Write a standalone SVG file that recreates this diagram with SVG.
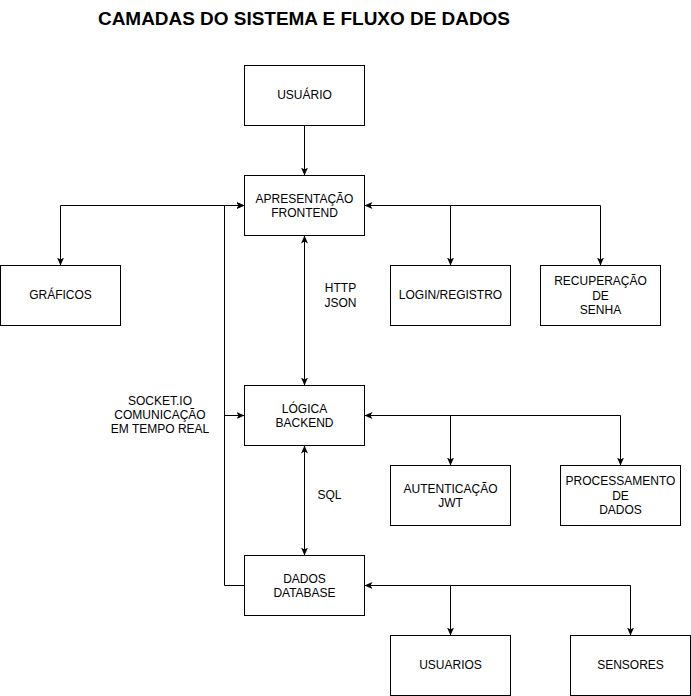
<svg xmlns="http://www.w3.org/2000/svg" width="691" height="696" viewBox="0 0 691 696">
<style>
.box{fill:#fff;stroke:#000;stroke-width:1}
.t{font-family:"Liberation Sans",Arial,Helvetica,sans-serif;font-size:12px;fill:#000;text-anchor:middle}
.title{font-family:"Liberation Sans",Arial,Helvetica,sans-serif;font-size:18px;font-weight:bold;fill:#000;text-anchor:middle}
.e{fill:none;stroke:#000;stroke-width:1}
</style>
<defs>
<marker id="a" viewBox="0 0 8 7" refX="8" refY="3.5" markerWidth="8" markerHeight="7" markerUnits="userSpaceOnUse" orient="auto-start-reverse">
<path d="M0,0 L8,3.5 L0,7 L2,3.5 z" fill="#000"/>
</marker>
</defs>
<rect width="691" height="696" fill="#fff"/>
<text class="title" x="304" y="25" textLength="412" lengthAdjust="spacingAndGlyphs">CAMADAS DO SISTEMA E FLUXO DE DADOS</text>

<g id="connectors">
<path class="e" d="M304.5,125.5 V175.5" marker-end="url(#a)"/>
<path class="e" d="M304.5,235.5 V385.5" marker-start="url(#a)" marker-end="url(#a)"/>
<path class="e" d="M304.5,445.5 V555.5" marker-start="url(#a)" marker-end="url(#a)"/>
<path class="e" d="M364.5,205.5 H450.5 V265.5" marker-start="url(#a)" marker-end="url(#a)"/>
<path class="e" d="M364.5,205.5 H600.5 V265.5" marker-end="url(#a)"/>
<path class="e" d="M244.5,205.5 H60.5 V265.5" marker-start="url(#a)" marker-end="url(#a)"/>
<path class="e" d="M244.5,585.5 H224.5 V205.5 H244.5" marker-end="url(#a)"/>
<path class="e" d="M224.5,415.5 H244.5" marker-end="url(#a)"/>
<path class="e" d="M364.5,415.5 H450.5 V465.5" marker-start="url(#a)" marker-end="url(#a)"/>
<path class="e" d="M364.5,415.5 H620.5 V465.5" marker-end="url(#a)"/>
<path class="e" d="M364.5,585.5 H450.5 V635.5" marker-start="url(#a)" marker-end="url(#a)"/>
<path class="e" d="M364.5,585.5 H630.5 V635.5" marker-end="url(#a)"/>
<text class="t" x="340.5" y="292">HTTP</text>
<text class="t" x="340.5" y="306.5">JSON</text>
<text class="t" x="329.5" y="498.5">SQL</text>
<text class="t" x="160" y="404.5">SOCKET.IO</text>
<text class="t" x="160" y="418.9">COMUNICAÇÃO</text>
<text class="t" x="160" y="433.3">EM TEMPO REAL</text>
</g>

<g id="usuario"><rect class="box" x="244.5" y="65.5" width="120" height="60"/><text class="t" x="304.5" y="99">USUÁRIO</text></g>
<g id="frontend"><rect class="box" x="244.5" y="175.5" width="120" height="60"/><text class="t" x="304.5" y="202.6">APRESENTAÇÃO</text><text class="t" x="304.5" y="217">FRONTEND</text></g>
<g id="graficos"><rect class="box" x="0.5" y="265.5" width="120" height="60"/><text class="t" x="60.5" y="299">GRÁFICOS</text></g>
<g id="login"><rect class="box" x="390.5" y="265.5" width="120" height="60"/><text class="t" x="450.5" y="299">LOGIN/REGISTRO</text></g>
<g id="recuperacao"><rect class="box" x="540.5" y="265.5" width="120" height="60"/><text class="t" x="600.5" y="285.4">RECUPERAÇÃO</text><text class="t" x="600.5" y="299.8">DE</text><text class="t" x="600.5" y="314.2">SENHA</text></g>
<g id="backend"><rect class="box" x="244.5" y="385.5" width="120" height="60"/><text class="t" x="304.5" y="412.6">LÓGICA</text><text class="t" x="304.5" y="427">BACKEND</text></g>
<g id="autenticacao"><rect class="box" x="390.5" y="465.5" width="120" height="60"/><text class="t" x="450.5" y="492.6">AUTENTICAÇÃO</text><text class="t" x="450.5" y="507">JWT</text></g>
<g id="processamento"><rect class="box" x="560.5" y="465.5" width="120" height="60"/><text class="t" x="620.5" y="485.4">PROCESSAMENTO</text><text class="t" x="620.5" y="499.8">DE</text><text class="t" x="620.5" y="514.2">DADOS</text></g>
<g id="dados"><rect class="box" x="244.5" y="555.5" width="120" height="60"/><text class="t" x="304.5" y="582.6">DADOS</text><text class="t" x="304.5" y="597">DATABASE</text></g>
<g id="usuarios"><rect class="box" x="390.5" y="635.5" width="120" height="60"/><text class="t" x="450.5" y="669">USUARIOS</text></g>
<g id="sensores"><rect class="box" x="570.5" y="635.5" width="120" height="60"/><text class="t" x="630.5" y="669">SENSORES</text></g>
</svg>
